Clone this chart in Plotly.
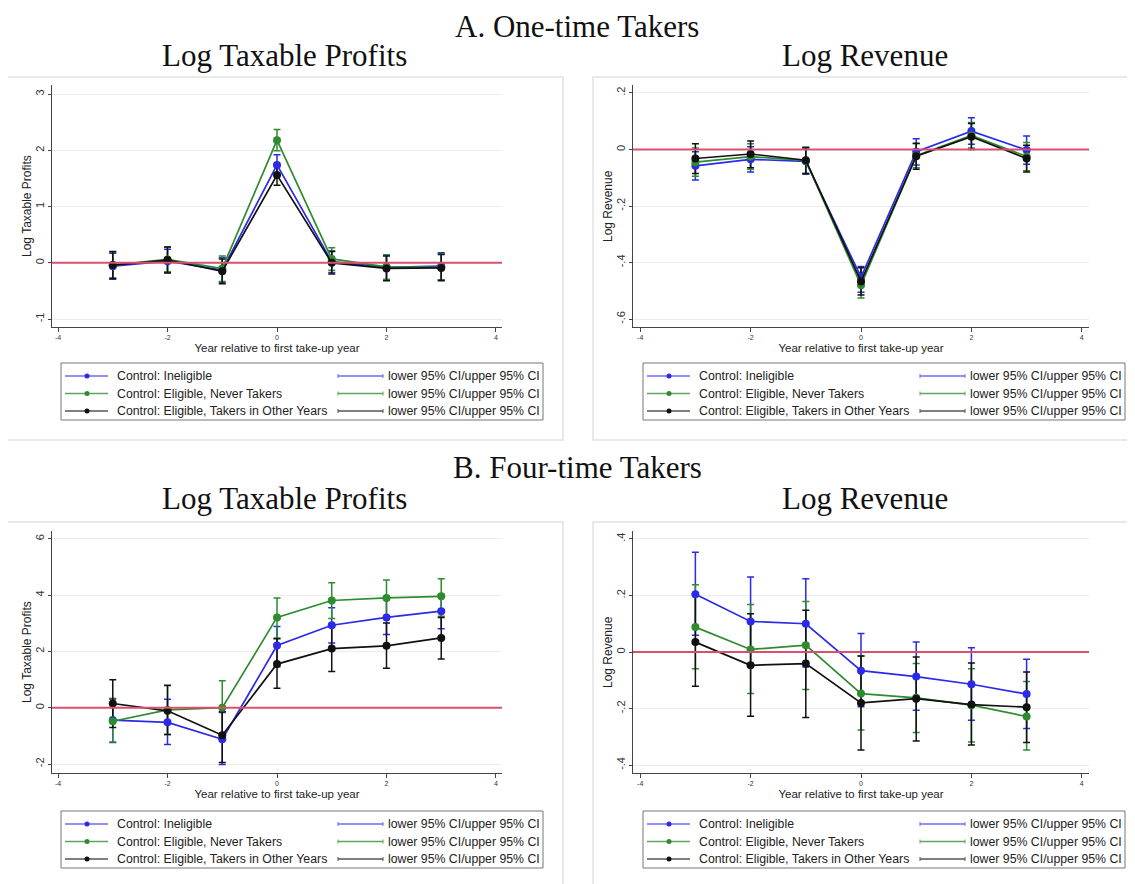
import plotly.graph_objects as go

W, H = 1135, 884

years = [-3, -2, -1, 0, 1, 2, 3]

# Panel A left: one-time takers, log taxable profits
a_prof_inel = [-0.06, 0.03, -0.13, 1.74, 0.02, -0.08, -0.06]
a_prof_inel_lo = [-0.29, -0.17, -0.35, 1.56, -0.17, -0.30, -0.30]
a_prof_inel_hi = [0.17, 0.24, 0.09, 1.92, 0.21, 0.14, 0.18]
a_prof_never = [-0.04, 0.06, -0.10, 2.18, 0.07, -0.07, -0.08]
a_prof_never_lo = [-0.27, -0.16, -0.33, 1.99, -0.13, -0.29, -0.31]
a_prof_never_hi = [0.19, 0.28, 0.12, 2.37, 0.27, 0.14, 0.16]
a_prof_other = [-0.04, 0.05, -0.15, 1.56, 0.00, -0.10, -0.09]
a_prof_other_lo = [-0.28, -0.18, -0.37, 1.38, -0.20, -0.32, -0.32]
a_prof_other_hi = [0.20, 0.28, 0.07, 1.74, 0.20, 0.12, 0.15]

# Panel A right: one-time takers, log revenue
a_rev_inel = [-0.058, -0.035, -0.042, -0.452, -0.008, 0.065, -0.002]
a_rev_inel_lo = [-0.108, -0.080, -0.088, -0.505, -0.055, 0.018, -0.052]
a_rev_inel_hi = [-0.008, 0.010, 0.004, -0.414, 0.038, 0.112, 0.048]
a_rev_never = [-0.045, -0.025, -0.040, -0.480, -0.022, 0.050, -0.025]
a_rev_never_lo = [-0.095, -0.070, -0.085, -0.525, -0.065, 0.005, -0.075]
a_rev_never_hi = [0.005, 0.020, 0.005, -0.435, 0.020, 0.095, 0.025]
a_rev_other = [-0.032, -0.016, -0.038, -0.467, -0.024, 0.045, -0.032]
a_rev_other_lo = [-0.085, -0.065, -0.085, -0.515, -0.070, 0.000, -0.080]
a_rev_other_hi = [0.020, 0.030, 0.008, -0.418, 0.022, 0.092, 0.015]

# Panel B left: four-time takers, log taxable profits
b_prof_inel = [-0.44, -0.52, -1.12, 2.21, 2.93, 3.21, 3.43]
b_prof_inel_lo = [-1.24, -1.31, -2.02, 1.46, 2.30, 2.60, 2.81]
b_prof_inel_hi = [0.33, 0.30, -0.17, 2.89, 3.55, 3.85, 4.02]
b_prof_never = [-0.48, -0.08, 0.00, 3.21, 3.81, 3.90, 3.96]
b_prof_never_lo = [-1.22, -0.95, -0.98, 2.48, 3.17, 3.25, 3.25]
b_prof_never_hi = [0.30, 0.80, 0.96, 3.90, 4.44, 4.54, 4.58]
b_prof_other = [0.15, -0.11, -0.98, 1.55, 2.10, 2.20, 2.48]
b_prof_other_lo = [-0.70, -0.95, -1.95, 0.69, 1.29, 1.40, 1.73]
b_prof_other_hi = [0.99, 0.79, -0.14, 2.45, 2.89, 3.01, 3.21]

# Panel B right: four-time takers, log revenue
b_rev_inel = [0.204, 0.108, 0.100, -0.066, -0.087, -0.114, -0.149]
b_rev_inel_lo = [0.059, -0.047, -0.053, -0.194, -0.206, -0.241, -0.271]
b_rev_inel_hi = [0.353, 0.265, 0.259, 0.065, 0.035, 0.015, -0.026]
b_rev_never = [0.088, 0.009, 0.024, -0.147, -0.162, -0.188, -0.228]
b_rev_never_lo = [-0.059, -0.147, -0.133, -0.276, -0.285, -0.318, -0.347]
b_rev_never_hi = [0.238, 0.168, 0.179, -0.014, -0.041, -0.059, -0.104]
b_rev_other = [0.035, -0.047, -0.041, -0.180, -0.165, -0.186, -0.195]
b_rev_other_lo = [-0.121, -0.227, -0.232, -0.347, -0.315, -0.329, -0.320]
b_rev_other_hi = [0.200, 0.135, 0.148, -0.014, -0.018, -0.039, -0.071]

series_names = ["Control: Ineligible", "Control: Eligible, Never Takers",
                "Control: Eligible, Takers in Other Years"]
ci_label = "lower 95% CI/upper 95% CI"
colors = ["#2a2ae8", "#2e8b2e", "#111111"]
legend_line_colors = ["#6b6bf2", "#5fa55f", "#555555"]

xtick_vals = [-4, -2, 0, 2, 4]
xtick_text = ["-4", "-2", "0", "2", "4"]

panels = [
    dict(n="", xd=(52, 502), yd=(85, 327), xr=[-4.11, 4.11], yr=[-1.14, 3.16],
         yt=[-1, 0, 1, 2, 3], ytt=["-1", "0", "1", "2", "3"], ytitle="Log Taxable Profits",
         data=[(a_prof_inel, a_prof_inel_lo, a_prof_inel_hi),
               (a_prof_never, a_prof_never_lo, a_prof_never_hi),
               (a_prof_other, a_prof_other_lo, a_prof_other_hi)],
         frame=(5, 77, 563, 440), leg=(61, 363)),
    dict(n="2", xd=(633, 1089), yd=(85, 327), xr=[-4.13, 4.13], yr=[-0.628, 0.228],
         yt=[-0.6, -0.4, -0.2, 0, 0.2], ytt=["-.6", "-.4", "-.2", "0", ".2"], ytitle="Log Revenue",
         data=[(a_rev_inel, a_rev_inel_lo, a_rev_inel_hi),
               (a_rev_never, a_rev_never_lo, a_rev_never_hi),
               (a_rev_other, a_rev_other_lo, a_rev_other_hi)],
         frame=(593, 77, 1150, 440), leg=(643, 363)),
    dict(n="3", xd=(52, 502), yd=(531, 773), xr=[-4.11, 4.11], yr=[-2.32, 6.28],
         yt=[-2, 0, 2, 4, 6], ytt=["-2", "0", "2", "4", "6"], ytitle="Log Taxable Profits",
         data=[(b_prof_inel, b_prof_inel_lo, b_prof_inel_hi),
               (b_prof_never, b_prof_never_lo, b_prof_never_hi),
               (b_prof_other, b_prof_other_lo, b_prof_other_hi)],
         frame=(5, 522, 563, 900), leg=(61, 811)),
    dict(n="4", xd=(633, 1089), yd=(531, 773), xr=[-4.13, 4.13], yr=[-0.428, 0.428],
         yt=[-0.4, -0.2, 0, 0.2, 0.4], ytt=["-.4", "-.2", "0", ".2", ".4"], ytitle="Log Revenue",
         data=[(b_rev_inel, b_rev_inel_lo, b_rev_inel_hi),
               (b_rev_never, b_rev_never_lo, b_rev_never_hi),
               (b_rev_other, b_rev_other_lo, b_rev_other_hi)],
         frame=(593, 522, 1150, 900), leg=(643, 811)),
]

# the page puts the plot 8px in from the top-left corner
OFF = 8


def fx(px):
    return (px - OFF) / W


def fy(py):
    return 1 - (py - OFF) / H


fig = go.Figure()
shapes = []
annotations = []
layout_axes = {}

for p in panels:
    n = p["n"]
    xa, ya = "x" + n, "y" + n
    # confidence intervals first, connected estimates on top
    for (est, lo, hi), c in zip(p["data"], colors):
        fig.add_trace(go.Scatter(
            x=years, y=est, xaxis=xa, yaxis=ya, mode="markers",
            marker=dict(size=1, opacity=0),
            error_y=dict(type="data", symmetric=False,
                         array=[h - e for h, e in zip(hi, est)],
                         arrayminus=[e - l for e, l in zip(est, lo)],
                         color=c, thickness=1.5, width=3.5),
            showlegend=False, hoverinfo="skip"))
    for (est, lo, hi), c in zip(p["data"], colors):
        fig.add_trace(go.Scatter(
            x=years, y=est, xaxis=xa, yaxis=ya, mode="lines+markers",
            line=dict(color=c, width=1.7), marker=dict(color=c, size=8),
            showlegend=False))

    layout_axes["xaxis" + n] = dict(
        domain=[fx(p["xd"][0]), fx(p["xd"][1])], range=p["xr"], anchor=ya,
        tickvals=xtick_vals, ticktext=xtick_text, ticks="outside", ticklen=4,
        tickcolor="#444", tickfont=dict(size=7, color="#333"),
        showline=True, linecolor="#444", linewidth=1, showgrid=False, zeroline=False,
        title=dict(text="Year relative to first take-up year", standoff=3,
                   font=dict(size=11.5, color="#222")))
    layout_axes["yaxis" + n] = dict(
        domain=[fy(p["yd"][1]), fy(p["yd"][0])], range=p["yr"], anchor=xa,
        tickvals=p["yt"], ticktext=p["ytt"], tickangle=-90, ticks="outside", ticklen=3,
        tickcolor="#444", tickfont=dict(size=11, color="#333"),
        showline=True, linecolor="#444", linewidth=1,
        showgrid=True, gridcolor="#ececec", gridwidth=1, zeroline=False)

    # y axis title placed beside the rotated tick labels
    annotations.append(dict(xref="paper", yref=ya + " domain",
                            x=fx(p["xd"][0] - 25), y=0.5, textangle=-90,
                            xanchor="center", yanchor="middle", showarrow=False,
                            text=p["ytitle"], font=dict(size=12, color="#222")))

    # red reference line at zero
    shapes.append(dict(type="line", xref=xa + " domain", yref=ya, x0=0, x1=1, y0=0, y1=0,
                       line=dict(color="#d9506e", width=2)))

    # graph region frame
    f = p["frame"]
    shapes.append(dict(type="rect", xref="paper", yref="paper", layer="below",
                       x0=fx(f[0]), x1=fx(f[2]), y0=fy(f[3]), y1=fy(f[1]),
                       line=dict(color="#e2e2e2", width=1.5), fillcolor="white"))

    # legend box
    lx, ly = p["leg"]
    shapes.append(dict(type="rect", xref="paper", yref="paper",
                       x0=fx(lx), x1=fx(lx + 482), y0=fy(ly + 57), y1=fy(ly),
                       line=dict(color="#777", width=1)))
    for i, (name, lc, mc) in enumerate(zip(series_names, legend_line_colors, colors)):
        ry = ly + 13 + i * 17.5
        shapes.append(dict(type="line", xref="paper", yref="paper",
                           x0=fx(lx + 4), x1=fx(lx + 47), y0=fy(ry), y1=fy(ry),
                           line=dict(color=lc, width=1.5)))
        shapes.append(dict(type="circle", xref="paper", yref="paper", fillcolor=mc,
                           x0=fx(lx + 23.5), x1=fx(lx + 28.5), y0=fy(ry + 2.5), y1=fy(ry - 2.5),
                           line=dict(color=mc, width=0)))
        annotations.append(dict(xref="paper", yref="paper", x=fx(lx + 54), y=fy(ry),
                                xanchor="left", yanchor="middle", showarrow=False,
                                text=name, font=dict(size=12.3, color="#222")))
        shapes.append(dict(type="line", xref="paper", yref="paper",
                           x0=fx(lx + 277), x1=fx(lx + 322), y0=fy(ry), y1=fy(ry),
                           line=dict(color=lc, width=1.5)))
        for ex in (lx + 277, lx + 322):
            shapes.append(dict(type="line", xref="paper", yref="paper",
                               x0=fx(ex), x1=fx(ex), y0=fy(ry - 2), y1=fy(ry + 2),
                               line=dict(color=lc, width=1)))
        annotations.append(dict(xref="paper", yref="paper", x=fx(lx + 325), y=fy(ry),
                                xanchor="left", yanchor="middle", showarrow=False,
                                text=ci_label, font=dict(size=12.3, color="#222")))

# titles
title_font = dict(family="Liberation Serif", size=31, color="#111")
for text, cx, cy in [("A. One-time Takers", 577, 26), ("Log Taxable Profits", 284, 55),
                     ("Log Revenue", 865, 55), ("B. Four-time Takers", 577, 467),
                     ("Log Taxable Profits", 284, 498), ("Log Revenue", 865, 498)]:
    annotations.append(dict(xref="paper", yref="paper", x=fx(cx), y=fy(cy),
                            xanchor="center", yanchor="middle", showarrow=False,
                            text=text, font=title_font))

fig.update_layout(
    width=W, height=H,
    margin=dict(l=0, r=0, t=0, b=0),
    paper_bgcolor="white", plot_bgcolor="white",
    font=dict(family="Liberation Sans, Arial, sans-serif"),
    showlegend=False,
    shapes=shapes, annotations=annotations,
    **layout_axes,
)

fig.write_html("out.html")
